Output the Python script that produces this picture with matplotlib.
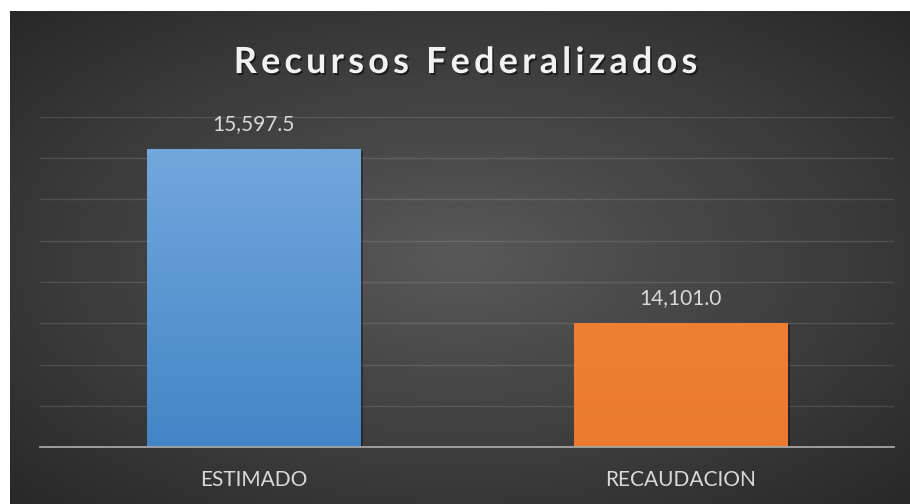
import numpy as np
import matplotlib.pyplot as plt
import matplotlib.patheffects as pe
from matplotlib.colors import LinearSegmentedColormap
from matplotlib.font_manager import FontProperties, findfont
from matplotlib.ft2font import FT2Font
from matplotlib.textpath import TextPath
from matplotlib.patches import PathPatch
from matplotlib.path import Path
from matplotlib.transforms import Affine2D

title = 'Recursos Federalizados'
categories = ['ESTIMADO', 'RECAUDACION']
values = [15597.5, 14101.0]

# top / bottom colours of each bar's gradient
bar_colors = ['#5b9bd5', '#ed7d31']
bar_grads = [('#72a8dc', '#4385c6'), ('#ee7f33', '#eb7a2e')]

W, H = 910, 504
fig = plt.figure(figsize=(W / 100, H / 100), dpi=100)
fig.patch.set_facecolor('white')

# dark radial background of the chart area
bg = fig.add_axes([10 / W, 0, 900 / W, 493 / H])
bg.set_axis_off()
yy, xx = np.mgrid[-1:1:300j, -1:1:500j]
r = np.clip(np.sqrt(xx ** 2 + yy ** 2) / np.sqrt(2), 0, 1)
bg_cmap = LinearSegmentedColormap.from_list('bg', ['#595959', '#282828'])
bg.imshow(r, cmap=bg_cmap, aspect='auto', extent=(0, 1, 0, 1), vmin=0, vmax=1)
bg.set_xlim(0, 1)
bg.set_ylim(0, 1)

ax = fig.add_axes([40 / W, 56.7 / H, 854 / W, 330.6 / H])
ax.set_facecolor('none')
ymin, ymax = 13030, 15875
x = np.arange(len(categories))

bars = ax.bar(x, values, width=0.5, color=bar_colors, zorder=2)
for bar, (top, bottom) in zip(bars, bar_grads):
    bar.set_path_effects([pe.SimplePatchShadow(offset=(2, -1.5), shadow_rgbFace='black', alpha=0.35),
                          pe.Normal()])
    cm = LinearSegmentedColormap.from_list('g', [bottom, top])
    im = ax.imshow(np.linspace(0, 1, 256).reshape(-1, 1), cmap=cm, origin='lower', aspect='auto',
                   extent=(bar.get_x(), bar.get_x() + bar.get_width(), ymin, bar.get_height()),
                   zorder=3)
    im.set_clip_path(bar)

for xi, v in zip(x, values):
    ax.annotate('{:,.1f}'.format(v), (xi, v), xytext=(0, 18), textcoords='offset points',
                ha='center', va='center', color='#d9d9d9', fontsize=15, family='Lato')

ax.set_xlim(-0.5, 1.5)
ax.set_ylim(ymin, ymax)
ax.set_yticks(np.linspace(ymin, ymax, 9))
ax.yaxis.grid(True, color='white', alpha=0.12, lw=1)
ax.set_axisbelow(True)
ax.tick_params(axis='y', left=False, labelleft=False)
ax.set_xticks(x, categories)
ax.tick_params(axis='x', length=0, pad=16, labelsize=15, labelcolor='#d9d9d9')
for lbl in ax.get_xticklabels():
    lbl.set_family('Lato')
for s in ['top', 'right', 'left']:
    ax.spines[s].set_visible(False)
ax.spines['bottom'].set_color('#a6a6a6')
ax.spines['bottom'].set_linewidth(1.3)
ax.spines['bottom'].set_zorder(4)

# title with letter spacing, built glyph by glyph
fp = FontProperties(family='Lato', weight='bold')
em = 36.0
font = FT2Font(findfont(fp), hinting_factor=1)
font.set_size(em, 72)
tracking = 4.2
pieces, pen = [], 0.0
for ch in title:
    if ch != ' ':
        pieces.append(TextPath((pen, 0), ch, size=em, prop=fp))
    pen += font.load_char(ord(ch)).linearHoriAdvance / 65536 + tracking
total = pen - tracking
title_patch = PathPatch(Path.make_compound_path(*pieces),
                        transform=Affine2D().translate(465.5 - total / 2, H - 73),
                        facecolor='#f2f2f2', edgecolor='none')
title_patch.set_path_effects([pe.SimplePatchShadow(offset=(1.2, -1.5), shadow_rgbFace='black', alpha=0.5),
                              pe.Normal()])
fig.add_artist(title_patch)

fig.savefig('out.png', dpi=100)
